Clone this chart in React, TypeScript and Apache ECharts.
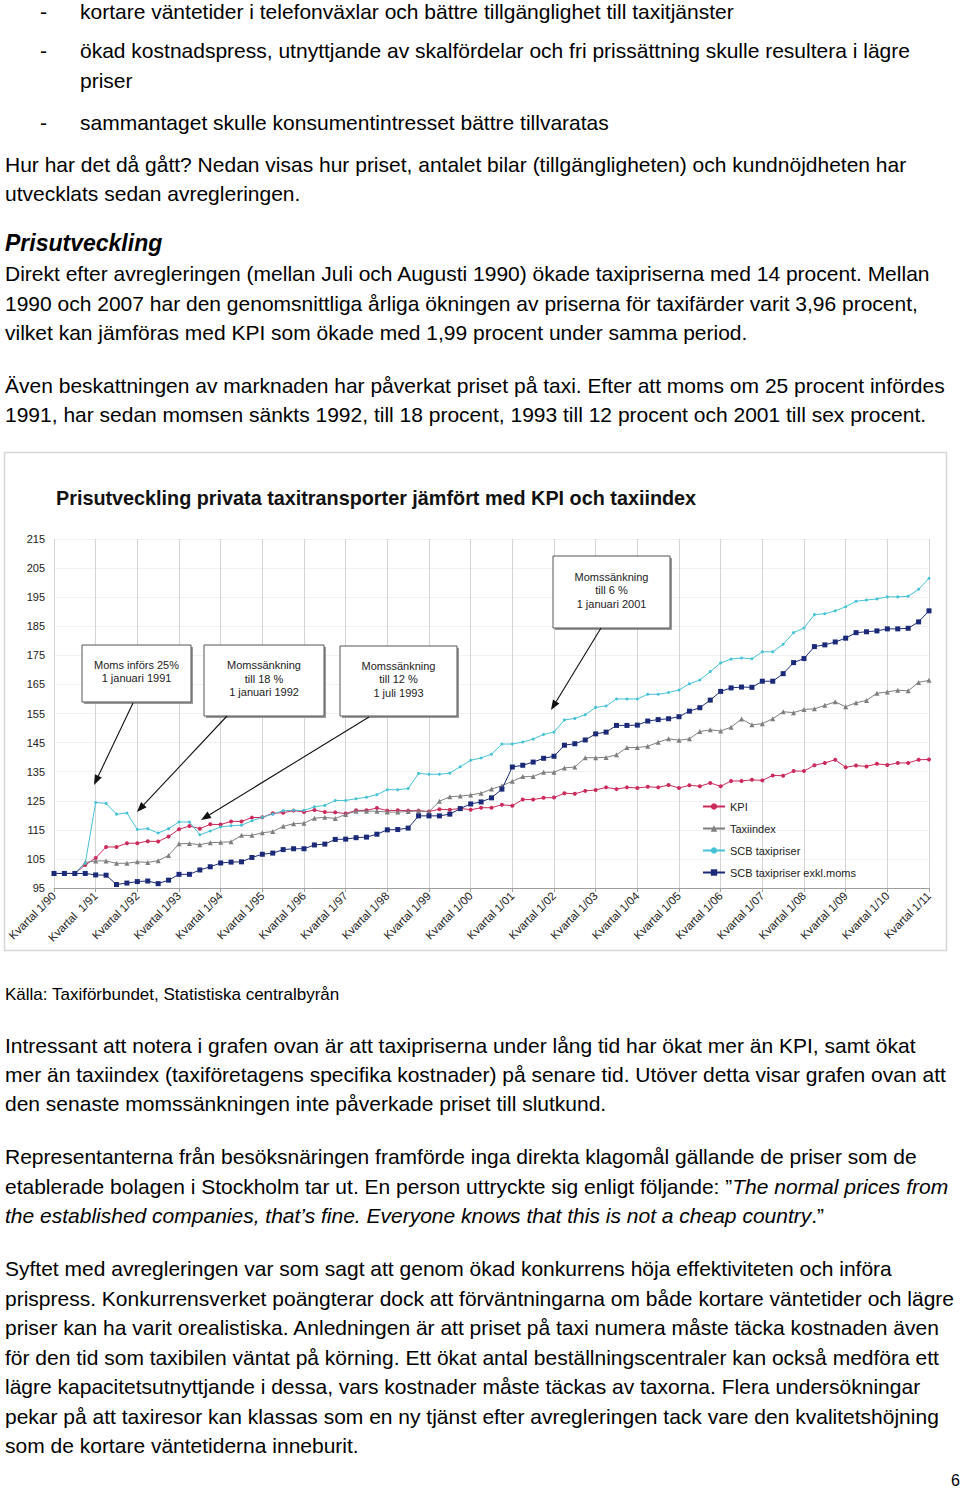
import React, { useEffect, useRef } from "react";
import * as echarts from "echarts";

// ---------- DATA ----------
const yearSuffixes = ["90","91","92","93","94","95","96","97","98","99","00","01","02","03","04","05","06","07","08","09","10","11"];
const yearTickLabels = [
  "Kvartal 1/90","Kvartal  1/91","Kvartal 1/92","Kvartal 1/93","Kvartal 1/94","Kvartal 1/95",
  "Kvartal 1/96","Kvartal 1/97","Kvartal 1/98","Kvartal 1/99","Kvartal 1/00","Kvartal 1/01",
  "Kvartal 1/02","Kvartal 1/03","Kvartal 1/04","Kvartal 1/05","Kvartal 1/06","Kvartal 1/07",
  "Kvartal 1/08","Kvartal 1/09","Kvartal 1/10","Kvartal 1/11"
];

const kpi = [
  100,100,100,102.9,105.3,109.1,109.1,110.4,110.4,111.1,111.0,112.7,115.2,116.3,115.4,116.9,
  116.8,117.9,117.9,119.2,119.3,120.7,120.9,121.6,121.1,121.8,121.1,121.0,120.6,121.7,121.7,122.5,
  121.6,121.7,121.6,121.6,121.3,122.1,121.9,122.4,121.9,122.6,122.6,123.6,123.3,125.4,125.4,126.0,
  126.1,127.6,127.4,128.4,128.7,129.6,129.0,129.6,129.4,129.8,129.6,130.4,129.4,130.3,130.0,131.1,
  130.0,131.8,131.8,132.2,132.0,133.7,133.6,135.2,135.2,137.2,138.0,139.1,136.5,137.1,136.8,137.7,
  137.3,138.0,138.0,139.1,139.2
];
const taxiindex = [
  100,100,100,103.8,104.3,104.3,103.5,103.5,104.0,103.8,104.4,106.2,110.2,110.3,109.9,110.6,
  110.7,110.9,113.1,113.1,114.0,114.4,116.2,117.1,117.3,119.0,119.3,118.9,120.3,121.4,121.4,121.4,
  121.1,121.1,121.3,121.5,121.2,124.8,126.4,126.6,127.0,127.6,129.0,130.2,131.7,133.3,133.3,134.8,
  134.8,136.3,136.6,139.8,139.8,139.9,140.8,143.3,143.3,143.7,145.1,146.3,145.8,146.3,148.8,149.4,
  149.0,150.3,153.1,151.1,151.5,153.2,155.6,155.3,156.4,156.6,157.8,159.0,157.3,158.7,159.5,162.0,
  162.4,163.0,162.8,165.7,166.4
];
const scbTaxipriser = [
  100,100,100,103.5,124.4,124.1,120.4,120.8,115.1,115.4,113.9,115.4,117.7,117.7,113.3,114.6,
  116.0,116.4,116.6,118.1,119.3,120.4,121.6,121.7,121.7,122.9,123.4,125.1,125.1,125.7,126.2,127.1,
  128.8,128.8,129.2,134.4,134.1,134.1,134.5,136.7,138.9,139.7,141.0,144.5,144.5,145.2,146.2,147.8,
  148.6,152.8,153.3,154.6,157.1,157.6,160.0,160.0,160.0,161.6,161.6,162.2,163.1,165.2,166.5,169.4,
  172.4,173.7,174.1,173.8,176.2,176.2,178.8,182.8,184.4,189.0,189.3,190.3,191.7,193.6,194.0,194.4,
  195.1,195.1,195.3,197.7,201.5
];
const scbExklMoms = [
  100,100,100,100,99.5,99.4,96.2,96.7,97.2,97.4,96.5,97.7,99.7,99.7,101.2,102.3,
  103.6,103.9,104.0,105.5,106.6,107.0,108.2,108.5,108.5,109.8,110.1,111.7,111.8,112.3,112.5,113.5,
  115.0,115.1,115.6,119.8,119.8,119.8,120.4,122.3,123.9,124.6,126.0,129.0,136.6,137.2,138.3,139.6,
  140.3,144.1,144.6,145.9,148.0,148.6,150.9,150.9,151.0,152.4,152.9,153.2,153.9,155.8,157.0,159.6,
  162.6,163.8,164.1,164.0,166.1,166.1,168.7,172.5,173.9,178.0,178.6,179.6,180.9,182.8,183.1,183.4,
  184.1,184.1,184.3,186.5,190.3
];

const seriesNames = ["KPI", "Taxiindex", "SCB taxipriser", "SCB taxipriser exkl.moms"];

const annotations = [
  { lines: ["Moms införs 25%", "1 januari 1991"] },
  { lines: ["Momssänkning", "till 18 %", "1 januari 1992"] },
  { lines: ["Momssänkning", "till 12 %", "1 juli 1993"] },
  { lines: ["Momssänkning", "till 6 %", "1 januari 2001"] },
];

// categories built from the year tick labels
const categories: string[] = [];
yearSuffixes.forEach((yy, j) => {
  const quarters = j === yearSuffixes.length - 1 ? 1 : 4;
  for (let q = 1; q <= quarters; q++) {
    categories.push(q === 1 ? yearTickLabels[j] : `Kvartal ${q}/${yy}`);
  }
});

// ---------- LAYOUT (page coordinates) ----------
const annotationLayout = [
  { box: [82, 645, 109, 57], from: [133, 703], to: [94, 785] },
  { box: [204, 645, 120, 71], from: [227, 716], to: [137, 812] },
  { box: [340, 646, 117, 70], from: [369, 717], to: [201, 820] },
  { box: [553, 556, 117, 72], from: [601, 628], to: [551, 710] },
];

function arrowHead(from: number[], to: number[]) {
  const dx = to[0] - from[0];
  const dy = to[1] - from[1];
  const len = Math.sqrt(dx * dx + dy * dy);
  const ux = dx / len, uy = dy / len;
  const L = 10, W = 3.8;
  const bx = to[0] - ux * L, by = to[1] - uy * L;
  return [
    [to[0], to[1]],
    [bx - uy * W, by + ux * W],
    [bx + uy * W, by - ux * W],
  ];
}

const FONT = '"Liberation Sans", Arial, Helvetica, sans-serif';

function Chart() {
  const ref = useRef<HTMLDivElement>(null);
  useEffect(() => {
    if (!ref.current) return;
    const chart = echarts.init(ref.current, undefined, { renderer: "svg" });
    const graphics: any[] = [];
    graphics.push({
      type: "rect",
      shape: { x: 4.5, y: 452.5, width: 942, height: 498 },
      style: { fill: "#ffffff", stroke: "#d6d6d6", lineWidth: 1.5 },
      z: -10,
      silent: true,
    });
    graphics.push({
      type: "text",
      x: 56,
      y: 498,
      scaleX: 0.99,
      style: {
        text: "Prisutveckling privata taxitransporter jämfört med KPI och taxiindex",
        font: `bold 20px ${FONT}`,
        fill: "#111",
        verticalAlign: "middle",
      },
      z: 10,
    });
    annotations.forEach((a, i) => {
      const lay = annotationLayout[i];
      const [x, y, w, h] = lay.box;
      graphics.push({
        type: "rect",
        shape: { x: x + 2, y: y + 2, width: w, height: h },
        style: { fill: "#9a9a9a", stroke: null },
        z: 20,
      });
      graphics.push({
        type: "rect",
        shape: { x, y, width: w, height: h },
        style: { fill: "#ffffff", stroke: "#555", lineWidth: 1 },
        z: 21,
      });
      graphics.push({
        type: "text",
        x: x + w / 2,
        y: y + h / 2 - 2,
        style: {
          text: a.lines.join("\n"),
          font: `11px ${FONT}`,
          lineHeight: 13.5,
          fill: "#222",
          align: "center",
          verticalAlign: "middle",
        },
        z: 22,
      });
      const head = arrowHead(lay.from, lay.to);
      const tipBase = [
        (head[1][0] + head[2][0]) / 2,
        (head[1][1] + head[2][1]) / 2,
      ];
      graphics.push({
        type: "line",
        shape: { x1: lay.from[0], y1: lay.from[1], x2: tipBase[0], y2: tipBase[1] },
        style: { stroke: "#111", lineWidth: 1.1 },
        z: 22,
      });
      graphics.push({
        type: "polygon",
        shape: { points: head },
        style: { fill: "#111" },
        z: 22,
      });
    });

    const colors = ["#cc2a5a", "#7f7f7f", "#46c2d6", "#1b2a78"];
    const symbols = ["circle", "triangle", "circle", "rect"];
    const symbolSizes = [4, 5, 3, 5];
    const dataSets = [kpi, taxiindex, scbTaxipriser, scbExklMoms];

    chart.setOption({
      animation: false,
      textStyle: { fontFamily: FONT },
      grid: { left: 54, right: 31, top: 539, bottom: 603, containLabel: false },
      legend: {
        orient: "vertical",
        left: 697,
        top: 795,
        itemWidth: 22,
        itemHeight: 8,
        itemGap: 9,
        data: seriesNames,
        textStyle: { fontSize: 11, color: "#222", fontFamily: FONT, lineHeight: 13 },
        backgroundColor: "transparent",
      },
      xAxis: {
        type: "category",
        boundaryGap: false,
        data: categories,
        axisLine: { lineStyle: { color: "#a0a0a0" } },
        axisTick: { interval: 3, length: 4, lineStyle: { color: "#a0a0a0" } },
        axisLabel: {
          interval: 3,
          rotate: 45,
          fontSize: 11.5,
          color: "#222",
          margin: 6,
          fontFamily: FONT,
        },
        splitLine: { show: true, interval: 3, lineStyle: { color: "#d4d4d4", width: 1 } },
      },
      yAxis: {
        type: "value",
        min: 95,
        max: 215,
        interval: 10,
        axisLine: { show: false },
        axisTick: { show: false },
        axisLabel: { fontSize: 11, color: "#222", margin: 9, fontFamily: FONT },
        splitLine: { lineStyle: { color: "#f1f1f1", width: 1 } },
      },
      series: seriesNames.map((name, k) => ({
        name,
        type: "line",
        data: dataSets[k],
        symbol: symbols[k],
        symbolSize: symbolSizes[k],
        showSymbol: true,
        lineStyle: { color: colors[k], width: 1 },
        itemStyle: { color: colors[k] },
        z: 3 + (k === 3 ? 1 : 0),
      })),
      graphic: graphics,
    });
    return () => chart.dispose();
  }, []);
  return (
    <div
      ref={ref}
      style={{ position: "absolute", left: 0, top: 0, width: 960, height: 1491 }}
    />
  );
}

type L = { y: number; x?: number; content: React.ReactNode; size?: number; style?: React.CSSProperties };

const pageLines: L[] = [
  { y: 12, x: 40, content: "-" },
  { y: 12, x: 80, content: "kortare väntetider i telefonväxlar och bättre tillgänglighet till taxitjänster" },
  { y: 51, x: 40, content: "-" },
  { y: 51, x: 80, content: "ökad kostnadspress, utnyttjande av skalfördelar och fri prissättning skulle resultera i lägre" },
  { y: 81, x: 80, content: "priser" },
  { y: 123, x: 40, content: "-" },
  { y: 123, x: 80, content: "sammantaget skulle konsumentintresset bättre tillvaratas" },
  { y: 165, content: "Hur har det då gått? Nedan visas hur priset, antalet bilar (tillgängligheten) och kundnöjdheten har" },
  { y: 194, content: "utvecklats sedan avregleringen." },
  { y: 243, content: "Prisutveckling", size: 23, style: { fontWeight: "bold", fontStyle: "italic" } },
  { y: 274, content: "Direkt efter avregleringen (mellan Juli och Augusti 1990) ökade taxipriserna med 14 procent. Mellan" },
  { y: 304, content: "1990 och 2007 har den genomsnittliga årliga ökningen av priserna för taxifärder varit 3,96 procent," },
  { y: 333, content: "vilket kan jämföras med KPI som ökade med 1,99 procent under samma period." },
  { y: 386, content: "Även beskattningen av marknaden har påverkat priset på taxi. Efter att moms om 25 procent infördes" },
  { y: 415, content: "1991, har sedan momsen sänkts 1992, till 18 procent, 1993 till 12 procent och 2001 till sex procent." },
  { y: 995, content: "Källa: Taxiförbundet, Statistiska centralbyrån", size: 17 },
  { y: 1046, content: "Intressant att notera i grafen ovan är att taxipriserna under lång tid har ökat mer än KPI, samt ökat" },
  { y: 1075, content: "mer än taxiindex (taxiföretagens specifika kostnader) på senare tid. Utöver detta visar grafen ovan att" },
  { y: 1104, content: "den senaste momssänkningen inte påverkade priset till slutkund." },
  { y: 1157, content: "Representanterna från besöksnäringen framförde inga direkta klagomål gällande de priser som de" },
  {
    y: 1187,
    content: (
      <>
        etablerade bolagen i Stockholm tar ut. En person uttryckte sig enligt följande: ”
        <i>The normal prices from</i>
      </>
    ),
  },
  {
    y: 1216,
    content: (
      <>
        <i>the established companies, that’s fine. Everyone knows that this is not a cheap country</i>.”
      </>
    ),
  },
  { y: 1269, content: "Syftet med avregleringen var som sagt att genom ökad konkurrens höja effektiviteten och införa" },
  { y: 1299, content: "prispress. Konkurrensverket poängterar dock att förväntningarna om både kortare väntetider och lägre" },
  { y: 1328, content: "priser kan ha varit orealistiska. Anledningen är att priset på taxi numera måste täcka kostnaden även" },
  { y: 1358, content: "för den tid som taxibilen väntat på körning. Ett ökat antal beställningscentraler kan också medföra ett" },
  { y: 1387, content: "lägre kapacitetsutnyttjande i dessa, vars kostnader måste täckas av taxorna. Flera undersökningar" },
  { y: 1417, content: "pekar på att taxiresor kan klassas som en ny tjänst efter avregleringen tack vare den kvalitetshöjning" },
  { y: 1446, content: "som de kortare väntetiderna inneburit." },
  { y: 1481, x: 951, content: "6", size: 16 },
];

export default function App() {
  return (
    <div style={{ position: "absolute", left: 0, top: 0, width: 960, height: 1491, overflow: "hidden", background: "#fff" }}>
      <Chart />
      {pageLines.map((l, i) => {
        const h = l.y < 15 ? 24 : 30;
        return (
          <div
            key={i}
            style={{
              position: "absolute",
              left: l.x ?? 5,
              top: l.y - h / 2,
              height: h,
              lineHeight: `${h}px`,
              fontSize: l.size ?? 21,
              fontFamily: FONT,
              color: "#000",
              whiteSpace: "pre",
              ...l.style,
            }}
          >
            {l.content}
          </div>
        );
      })}
    </div>
  );
}
